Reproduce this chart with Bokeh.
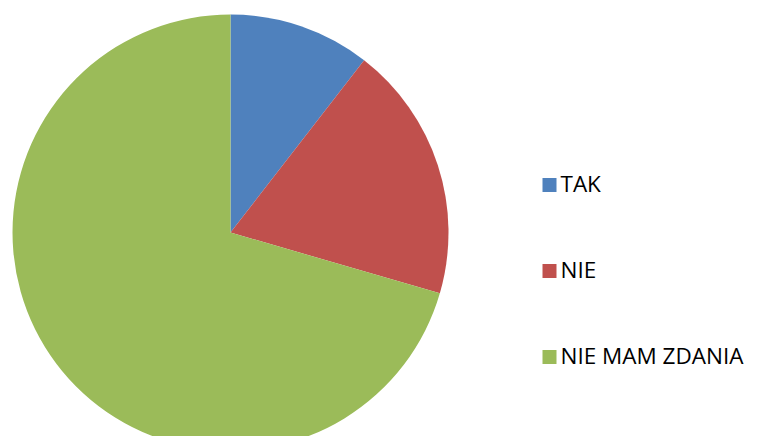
import math
from bokeh.plotting import figure
from bokeh.models import ColumnDataSource, Range1d
from bokeh.core.properties import value
from bokeh.embed import file_html
from bokeh.resources import INLINE

categories = ["TAK", "NIE", "NIE MAM ZDANIA"]
values = [10.5, 19.0, 70.5]
colors = ["#4F81BD", "#C0504D", "#9BBB59"]

W, H = 750, 436
total = sum(values)
starts, ends = [], []
cum = 0.0
for v in values:
    starts.append(math.pi / 2 - cum / total * 2 * math.pi)
    cum += v
    ends.append(math.pi / 2 - cum / total * 2 * math.pi)

src = ColumnDataSource(dict(cat=categories, val=values, color=colors,
                            start=starts, end=ends))

p = figure(width=W, height=H, output_backend="svg", toolbar_location=None,
           x_range=Range1d(0, W), y_range=Range1d(0, H), min_border=0)
p.axis.visible = False
p.grid.visible = False
p.outline_line_color = None

cx, cy, r = 230, H - 232, 218
p.wedge(x=cx, y=cy, radius=r, start_angle="start", end_angle="end",
        direction="clock", fill_color="color", line_color=None, source=src)

# legend
lx = 549
ly0 = H - 184.5
pitch = 86
leg = ColumnDataSource(dict(
    cat=categories, color=colors,
    sy=[ly0 - i * pitch for i in range(len(categories))],
    ty=[ly0 - i * pitch + 1.5 for i in range(len(categories))],
))
p.rect(x=lx, y="sy", width=14, height=14, fill_color="color", line_color=None, source=leg)
p.text(x=lx + 11, y="ty", text="cat", text_font=value("Open Sans"),
       text_font_size="22.5px", text_color="#000000", text_baseline="alphabetic",
       source=leg)

open("out.html", "w").write(file_html(p, INLINE))
